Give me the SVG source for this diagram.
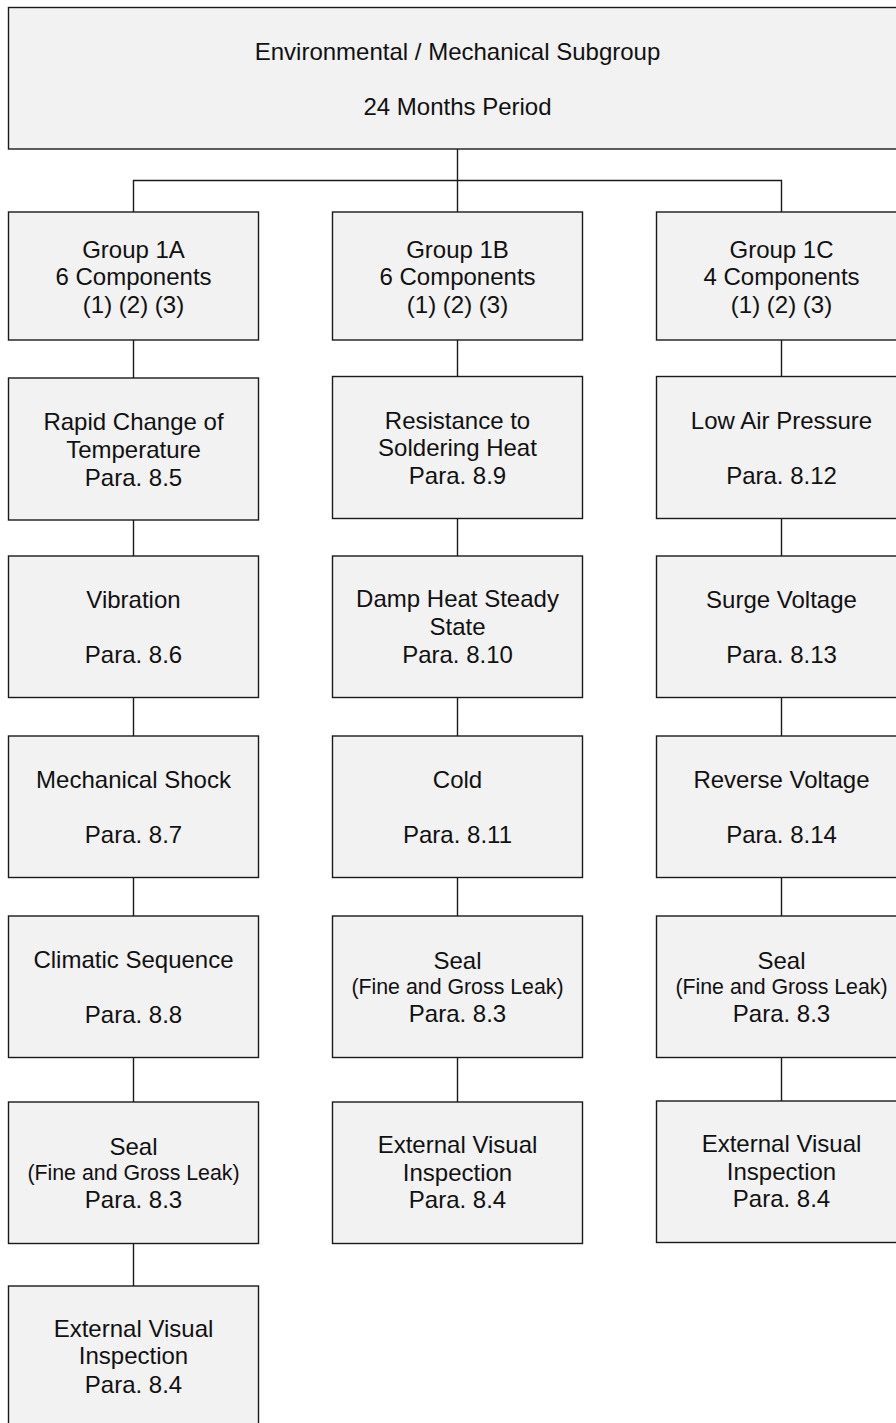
<svg xmlns="http://www.w3.org/2000/svg" width="896" height="1423" viewBox="0 0 896 1423">
<style>
.box{fill:#f2f2f2;stroke:#1a1a1a;stroke-width:1.4}
.ln{fill:none;stroke:#1a1a1a;stroke-width:1.4}
text{font-family:"Liberation Sans",Arial,sans-serif;font-size:24px;fill:#111;text-anchor:middle}
.sm{font-size:21.33px}
</style>
<rect width="896" height="1423" fill="#fff"/>
<g id="connectors">
<path class="ln" d="M457.5,149V212M133.5,212V180.5H781.5V212"/>
<path class="ln" d="M133.5,340V378M133.5,520V556M133.5,697.5V736M133.5,877.5V916M133.5,1057.5V1102M133.5,1243.5V1286"/>
<path class="ln" d="M457.5,340V376.5M457.5,518.5V556M457.5,697.5V736M457.5,877.5V916M457.5,1057.5V1102"/>
<path class="ln" d="M781.5,340V376.5M781.5,518.5V556M781.5,697.5V736M781.5,877.5V916M781.5,1057.5V1101"/>
</g>
<g id="top"><rect class="box" x="8.5" y="7.5" width="898" height="141.5"/><text x="457.5" y="60">Environmental / Mechanical Subgroup</text><text x="457.5" y="114.5">24 Months Period</text></g>
<g id="g1a"><rect class="box" x="8.5" y="212" width="250" height="128"/><text x="133.5" y="257.5">Group 1A</text><text x="133.5" y="285">6 Components</text><text x="133.5" y="312.5">(1) (2) (3)</text></g>
<g id="g1b"><rect class="box" x="332.5" y="212" width="250" height="128"/><text x="457.5" y="257.5">Group 1B</text><text x="457.5" y="285">6 Components</text><text x="457.5" y="312.5">(1) (2) (3)</text></g>
<g id="g1c"><rect class="box" x="656.5" y="212" width="250" height="128"/><text x="781.5" y="257.5">Group 1C</text><text x="781.5" y="285">4 Components</text><text x="781.5" y="312.5">(1) (2) (3)</text></g>
<g id="a1"><rect class="box" x="8.5" y="378" width="250" height="142"/><text x="133.5" y="430">Rapid Change of</text><text x="133.5" y="457.7">Temperature</text><text x="133.5" y="485.5">Para. 8.5</text></g>
<g id="a2"><rect class="box" x="8.5" y="556" width="250" height="141.5"/><text x="133.5" y="607.7">Vibration</text><text x="133.5" y="663.3">Para. 8.6</text></g>
<g id="a3"><rect class="box" x="8.5" y="736" width="250" height="141.5"/><text x="133.5" y="787.7">Mechanical Shock</text><text x="133.5" y="843.3">Para. 8.7</text></g>
<g id="a4"><rect class="box" x="8.5" y="916" width="250" height="141.5"/><text x="133.5" y="967.7">Climatic Sequence</text><text x="133.5" y="1023.3">Para. 8.8</text></g>
<g id="a5"><rect class="box" x="8.5" y="1102" width="250" height="141.5"/><text x="133.5" y="1155">Seal</text><text class="sm" x="133.5" y="1179.5">(Fine and Gross Leak)</text><text x="133.5" y="1207.8">Para. 8.3</text></g>
<g id="a6"><rect class="box" x="8.5" y="1286" width="250" height="142"/><text x="133.5" y="1336.7">External Visual</text><text x="133.5" y="1364">Inspection</text><text x="133.5" y="1392.5">Para. 8.4</text></g>
<g id="b1"><rect class="box" x="332.5" y="376.5" width="250" height="142"/><text x="457.5" y="428.5">Resistance to</text><text x="457.5" y="456">Soldering Heat</text><text x="457.5" y="483.7">Para. 8.9</text></g>
<g id="b2"><rect class="box" x="332.5" y="556" width="250" height="141.5"/><text x="457.5" y="607.3">Damp Heat Steady</text><text x="457.5" y="634.5">State</text><text x="457.5" y="662.5">Para. 8.10</text></g>
<g id="b3"><rect class="box" x="332.5" y="736" width="250" height="141.5"/><text x="457.5" y="787.7">Cold</text><text x="457.5" y="843.3">Para. 8.11</text></g>
<g id="b4"><rect class="box" x="332.5" y="916" width="250" height="141.5"/><text x="457.5" y="969">Seal</text><text class="sm" x="457.5" y="993.5">(Fine and Gross Leak)</text><text x="457.5" y="1021.7">Para. 8.3</text></g>
<g id="b5"><rect class="box" x="332.5" y="1102" width="250" height="141.5"/><text x="457.5" y="1153.3">External Visual</text><text x="457.5" y="1180.7">Inspection</text><text x="457.5" y="1208.3">Para. 8.4</text></g>
<g id="c1"><rect class="box" x="656.5" y="376.5" width="250" height="142"/><text x="781.5" y="428.5">Low Air Pressure</text><text x="781.5" y="484">Para. 8.12</text></g>
<g id="c2"><rect class="box" x="656.5" y="556" width="250" height="141.5"/><text x="781.5" y="607.7">Surge Voltage</text><text x="781.5" y="663.3">Para. 8.13</text></g>
<g id="c3"><rect class="box" x="656.5" y="736" width="250" height="141.5"/><text x="781.5" y="787.7">Reverse Voltage</text><text x="781.5" y="843.3">Para. 8.14</text></g>
<g id="c4"><rect class="box" x="656.5" y="916" width="250" height="141.5"/><text x="781.5" y="969">Seal</text><text class="sm" x="781.5" y="993.5">(Fine and Gross Leak)</text><text x="781.5" y="1021.7">Para. 8.3</text></g>
<g id="c5"><rect class="box" x="656.5" y="1101" width="250" height="141.5"/><text x="781.5" y="1152.3">External Visual</text><text x="781.5" y="1179.7">Inspection</text><text x="781.5" y="1207.3">Para. 8.4</text></g>
</svg>
